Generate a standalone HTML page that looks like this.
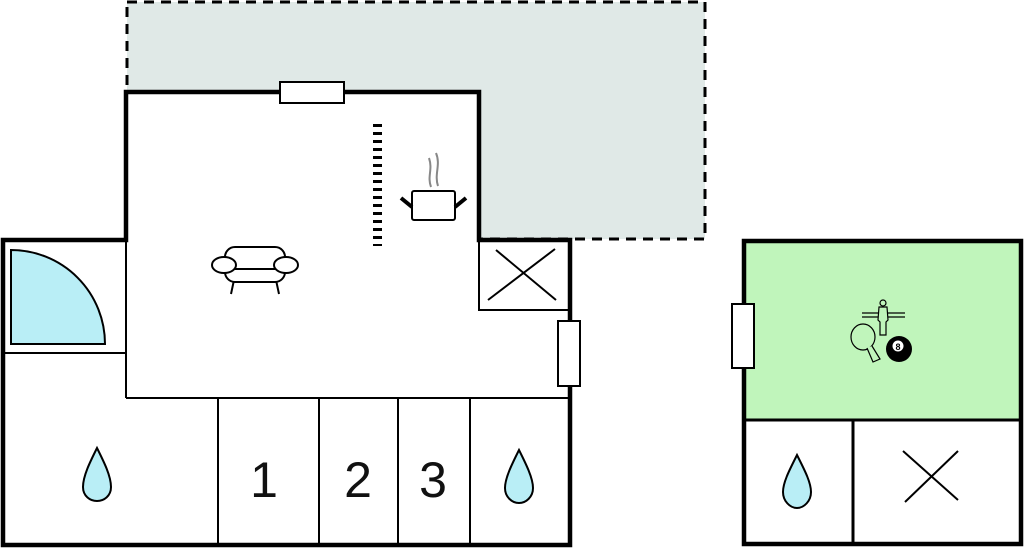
<!DOCTYPE html>
<html><head><style>html,body{margin:0;padding:0;background:#fff;width:1024px;height:548px;overflow:hidden}svg{display:block}</style></head>
<body>
<svg width="1024" height="548" viewBox="0 0 1024 548" xmlns="http://www.w3.org/2000/svg">
<!-- terrace -->
<rect x="127" y="2" width="578" height="237" fill="#e0e9e7" stroke="#000" stroke-width="3" stroke-dasharray="10,7"/>
<!-- main building fill -->
<path d="M126,92 H479 V240 H570 V545 H3 V240 H126 Z" fill="#fff"/>
<!-- quarter circle -->
<path d="M11,344 V250 A94,94 0 0 1 105,344 Z" fill="#b9eef6" stroke="#000" stroke-width="2"/>
<!-- thin interior lines -->
<g stroke="#000" stroke-width="2" fill="none">
<line x1="5" y1="353" x2="126" y2="353"/>
<line x1="126" y1="240" x2="126" y2="398"/>
<line x1="126" y1="398" x2="570" y2="398"/>
<line x1="218" y1="398" x2="218" y2="545"/>
<line x1="319" y1="398" x2="319" y2="545"/>
<line x1="398" y1="398" x2="398" y2="545"/>
<line x1="470" y1="398" x2="470" y2="545"/>
<rect x="479" y="241" width="90" height="69"/>
<line x1="488" y1="300" x2="555" y2="249"/>
<line x1="496" y1="250" x2="556" y2="300"/>
</g>
<!-- outer walls -->
<path d="M126,92 H479 V240 H570 V545 H3 V240 H126 Z" fill="none" stroke="#000" stroke-width="4.5"/>
<!-- windows -->
<rect x="280" y="82" width="64" height="21" fill="#fff" stroke="#000" stroke-width="2"/>
<rect x="558" y="321" width="22" height="65" fill="#fff" stroke="#000" stroke-width="2"/>
<!-- stairs -->
<line x1="377.5" y1="124" x2="377.5" y2="246" stroke="#000" stroke-width="9" stroke-dasharray="3,5"/>
<!-- pot -->
<rect x="412" y="191" width="43" height="29" rx="2" fill="#fff" stroke="#000" stroke-width="2"/>
<line x1="401" y1="198" x2="412" y2="207" stroke="#000" stroke-width="4"/>
<line x1="466" y1="198" x2="455" y2="207" stroke="#000" stroke-width="4"/>
<path d="M431,187 C427,176 433,170 429,158 M438,186 C434,174 441,165 436,153" fill="none" stroke="#888" stroke-width="2"/>
<!-- sofa -->
<g fill="#fff" stroke="#000" stroke-width="2">
<path d="M234,280 L231,294 M276,280 L279,294"/>
<rect x="225" y="247" width="60" height="35" rx="10"/>
<line x1="232" y1="269" x2="278" y2="269"/>
<ellipse cx="224" cy="265" rx="12" ry="8"/>
<ellipse cx="286" cy="265" rx="12" ry="8"/>
</g>
<!-- drops -->
<g fill="#b9eef6" stroke="#000" stroke-width="2">
<path d="M97,448 C90,462 83,476 83,487 C83,496 90,501 97,501 C104,501 111,496 111,487 C111,476 104,462 97,448 Z"/>
<path d="M519,450 C512,464 505,478 505,488 C505,497 512,503 519,503 C526,503 533,497 533,488 C533,478 526,464 519,450 Z"/>
<path d="M797,455 C790,469 783,482 783,492 C783,501 790,508 797,508 C804,508 811,501 811,492 C811,482 804,469 797,455 Z"/>
</g>
<!-- numbers -->
<g font-family="Liberation Sans, sans-serif" font-size="50" fill="#111" text-anchor="middle">
<text x="264" y="497">1</text>
<text x="358" y="497">2</text>
<text x="433" y="497">3</text>
</g>
<!-- right building -->
<rect x="744" y="241" width="277" height="179" fill="#c0f5bb"/>
<g stroke="#000" fill="none">
<line x1="744" y1="420" x2="1021" y2="420" stroke-width="3"/>
<line x1="853" y1="420" x2="853" y2="545" stroke-width="3"/>
<line x1="903" y1="451" x2="958" y2="500" stroke-width="2"/>
<line x1="958" y1="451" x2="905" y2="502" stroke-width="2"/>
<rect x="744" y="241" width="277" height="303" stroke-width="4.5"/>
</g>
<rect x="732" y="304" width="22" height="64" fill="#fff" stroke="#000" stroke-width="2"/>
<!-- game icons -->
<g stroke="#000" stroke-width="1.2" fill="none">
<line x1="862" y1="313" x2="905" y2="313"/>
<line x1="862" y1="317" x2="905" y2="317"/>
<circle cx="883" cy="303" r="3" fill="#c0f5bb"/>
<path d="M879,307 H887 L888,320 L886,322 V335 H880 V322 L878,320 Z" fill="#c0f5bb"/>
<ellipse cx="863" cy="337" rx="12" ry="13" fill="#c0f5bb"/>
<path d="M867,348 L873,362 L880,359 L872,346" fill="#c0f5bb"/>
</g>
<circle cx="899" cy="349" r="13" fill="#000"/>
<circle cx="898" cy="346" r="5.5" fill="#fff"/>
<text x="898" y="350" font-family="Liberation Sans, sans-serif" font-size="9" font-weight="bold" text-anchor="middle" fill="#000">8</text>
</svg>
</body></html>
